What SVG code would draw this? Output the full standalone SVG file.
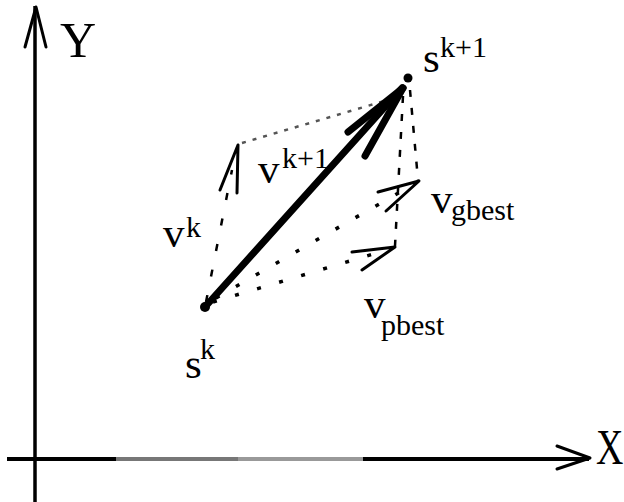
<svg xmlns="http://www.w3.org/2000/svg" width="624" height="502" viewBox="0 0 624 502">
<style>
text{font-family:"Liberation Serif","Times New Roman",serif;fill:#000}
.big{font-size:50px}
.base{font-size:43px}
.sup{font-size:30px}
.axis{stroke:#000;stroke-width:3.5;fill:none}
.head{stroke:#000;stroke-width:3;fill:none;stroke-linecap:round;stroke-linejoin:round}
.dot{stroke:#000;stroke-width:3.5;fill:none;stroke-dasharray:4 19}
.dash{stroke:#000;stroke-width:2.5;fill:none;stroke-dasharray:7 11}
.fine{stroke:#555;stroke-width:2.5;fill:none;stroke-dasharray:4 7}
.vk{stroke:#000;stroke-width:2.5;fill:none;stroke-dasharray:7 19}
</style>
<rect width="624" height="502" fill="#fff"/>
<g id="axes">
<line class="axis" x1="35" y1="6" x2="35" y2="502"/>
<polyline class="head" points="25,47 36,7 46,47"/>
<line x1="7" y1="459" x2="589" y2="459" stroke="#000" stroke-width="4"/>
<line x1="116" y1="459" x2="238" y2="459" stroke="#777" stroke-width="4"/>
<line x1="238" y1="459" x2="363" y2="459" stroke="#999" stroke-width="4"/>
<polyline class="head" points="557,446 590,458 557,469"/>
<text class="big" x="60" y="57">Y</text>
<text class="big" transform="translate(596,464) scale(0.76,1)" x="0" y="0">X</text>
</g>
<g id="connectors">
<line class="vk" x1="206" y1="302" x2="232" y2="170"/>
<polyline class="head" points="220,190 238,145 237,193"/>
<line class="fine" x1="242" y1="143" x2="398" y2="97"/>
<line class="dash" x1="410" y1="90" x2="418" y2="180"/>
<line class="dash" x1="403" y1="96" x2="395" y2="246"/>
<line class="dot" x1="216" y1="298" x2="400" y2="192"/>
<polyline class="head" points="378,192 419,181 386,211"/>
<line class="dot" x1="213" y1="302" x2="380" y2="252"/>
<polyline class="head" points="352,252 395,247 362,270"/>
<g stroke="#000" stroke-width="7" stroke-linecap="round" fill="none">
<line x1="205" y1="307" x2="402" y2="88"/>
<line x1="348" y1="132" x2="403" y2="88"/>
<line x1="365" y1="156" x2="403" y2="88"/>
</g>
</g>
<g id="sk">
<circle cx="205" cy="307" r="5" fill="#000"/>
<text class="base" x="185" y="378">s</text>
<text class="sup" x="200" y="359">k</text>
</g>
<g id="sk1">
<circle cx="408" cy="78" r="4.5" fill="#000"/>
<text class="base" x="423" y="72">s</text>
<text class="sup" x="440" y="57">k+1</text>
</g>
<g id="vk">
<text class="base" x="163" y="247">v</text>
<text class="sup" x="186" y="237">k</text>
</g>
<g id="vk1">
<text class="base" x="258" y="183">v</text>
<text class="sup" x="282" y="168">k+1</text>
</g>
<g id="vgbest">
<text class="base" x="431" y="213">v</text>
<text class="sup" x="451" y="220">gbest</text>
</g>
<g id="vpbest">
<text class="base" x="364" y="318">v</text>
<text class="sup" x="381" y="335">pbest</text>
</g>
</svg>
